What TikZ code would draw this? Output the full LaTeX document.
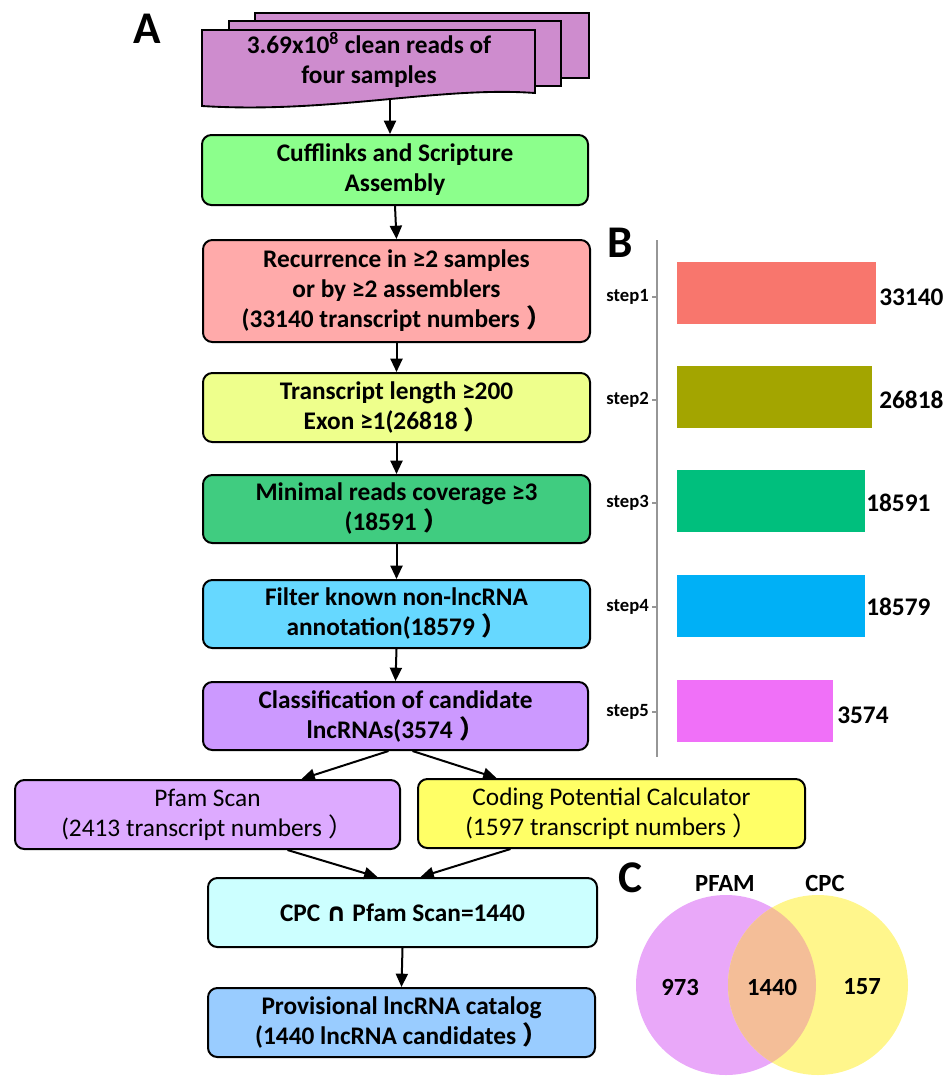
\documentclass[tikz,border=0pt]{standalone}
\usepackage{fontspec}
\setmainfont{Carlito}
\newfontfamily\cjk{Noto Sans CJK SC}
\newfontfamily\djv{DejaVu Sans}
\usetikzlibrary{arrows.meta,calc}
\newcommand\rpar{\hspace{0.25em}{\cjk ）}}
\definecolor{docfill}{RGB}{206,140,206}
\definecolor{cuffc}{RGB}{140,255,140}
\definecolor{recc}{RGB}{255,170,170}
\definecolor{lenc}{RGB}{238,255,140}
\definecolor{minc}{RGB}{64,204,128}
\definecolor{filc}{RGB}{102,216,255}
\definecolor{clsc}{RGB}{204,153,255}
\definecolor{pfac}{RGB}{221,170,255}
\definecolor{cpcc}{RGB}{255,255,102}
\definecolor{intc}{RGB}{204,255,255}
\definecolor{proc}{RGB}{153,204,255}
\definecolor{barA}{RGB}{248,118,109}
\definecolor{barB}{RGB}{163,165,0}
\definecolor{barC}{RGB}{0,191,125}
\definecolor{barD}{RGB}{0,176,246}
\definecolor{barE}{RGB}{240,112,248}
\definecolor{vennL}{RGB}{233,168,249}
\definecolor{vennR}{RGB}{255,246,140}
\definecolor{vennI}{RGB}{244,190,152}
\definecolor{axisg}{RGB}{150,150,150}
\begin{document}
\begin{tikzpicture}[x=0.75pt,y=-0.75pt,
  box/.style={draw=black, line width=1.5pt, rounded corners=7pt, align=center,
    inner sep=0pt, font=\fontsize{19}{22.5}\selectfont\bfseries},
  lightbox/.style={box, font=\fontsize{19}{22.5}\selectfont},
  wh/.style 2 args={minimum width=#1*0.75pt, minimum height=#2*0.75pt},
  arr/.style={-{Triangle[length=10pt,width=9pt]}, line width=1.5pt},
  panel/.style={font=\fontsize{34}{34}\selectfont\bfseries, inner sep=0pt},
  steplbl/.style={font=\fontsize{14}{16}\selectfont\bfseries, inner sep=0pt, anchor=east},
  val/.style={font=\fontsize{19}{20}\selectfont\bfseries, inner sep=0pt, anchor=west},
  vtxt/.style={font=\fontsize{18.5}{20}\selectfont\bfseries, inner sep=0pt}]
\useasboundingbox (0,0) rectangle (946,1076);
% panel labels
\node[panel] (lA) at (147,29) {A};
\node[panel] (lB) at (620,243) {B};
\node[panel] (lC) at (630,878) {C};
% document stack
\filldraw[fill=docfill, draw=black, line width=1.4pt] (255,13) rectangle (589,78);
\filldraw[fill=docfill, draw=black, line width=1.4pt] (229,21) rectangle (561,86);
\filldraw[fill=docfill, draw=black, line width=1.4pt]
  (202,30) -- (535,30) -- (535,93) .. controls (440,86) and (330,114) .. (202,106) -- cycle;
\node[font=\fontsize{19}{22.5}\selectfont\bfseries, align=center, inner sep=0pt] (doc) at (369,60)
  {3.69x10\textsuperscript{8} clean reads of\\four samples};
\coordinate (docb) at (390,100);
% flow boxes
\node[box, wh={386}{70}, fill=cuffc] (cuff) at (395,170) {Cufflinks and Scripture\\Assembly};
\node[box, wh={387}{102}, fill=recc] (rec) at (396.5,291)
  {Recurrence in ≥2 samples\\or by ≥2 assemblers\\(33140 transcript numbers\rpar};
\node[box, wh={387}{69}, fill=lenc] (len) at (396.5,407.5) {Transcript length ≥200\\Exon ≥1(26818\rpar};
\node[box, wh={387}{68}, fill=minc] (min) at (396.5,509) {Minimal reads coverage ≥3\\(18591\rpar};
\node[box, wh={387}{68}, fill=filc] (filt) at (396.5,614) {Filter known non-lncRNA\\annotation(18579\rpar};
\node[box, wh={385}{68}, fill=clsc] (cls) at (395.5,716) {Classification of candidate\\lncRNAs(3574\rpar};
\node[lightbox, wh={385}{69}, fill=pfac] (pfam) at (207.5,814.5) {Pfam Scan\\(2413 transcript numbers\rpar};
\node[lightbox, wh={387}{69}, fill=cpcc] (cpcalc) at (611.5,813.5) {Coding Potential Calculator\\(1597 transcript numbers\rpar};
\node[box, wh={389}{69}, fill=intc] (inter) at (402.5,912.5) {CPC {\djv ∩} Pfam Scan=1440};
\node[box, wh={387}{69}, fill=proc] (prov) at (401.5,1022.5) {Provisional lncRNA catalog\\(1440 lncRNA candidates\rpar};
% connectors
\draw[arr] (docb) -- (docb |- cuff.north);
\draw[arr] (cuff.south) -- (rec.north);
\draw[arr] (rec.south) -- (len.north);
\draw[arr] (len.south) -- (min.north);
\draw[arr] (min.south) -- (filt.north);
\draw[arr] (filt.south) -- (cls.north);
\draw[arr] ($(cls.south)+(-7,0)$) -- ($(pfam.north)+(94,0)$);
\draw[arr] ($(cls.south)+(17,0)$) -- ($(cpcalc.north)+(-115,0)$);
\draw[arr] ($(pfam.south)+(80,0)$) -- ($(inter.north)+(-25,0)$);
\draw[arr] ($(cpcalc.south)+(-101,0)$) -- ($(inter.north)+(18,0)$);
\draw[arr] (inter.south) -- (prov.north);
% bar chart
\draw[axisg, line width=1.5pt] (657,240) -- (657,757);
\foreach \yy/\nm in {297/step1,400/step2,503/step3,607/step4,712/step5}{
  \draw[axisg, line width=0.8pt] (652,\yy) -- (657,\yy);
  \node[steplbl] (\nm) at (649,\yy) {\nm};
}
\fill[barA] (677,262) rectangle (876,324);
\fill[barB] (677,366) rectangle (872,428);
\fill[barC] (677,470) rectangle (865,532);
\fill[barD] (677,575) rectangle (865,637);
\fill[barE] (677,680) rectangle (833,742);
\node[val] (v1) at (879,297) {33140};
\node[val] (v2) at (879,400) {26818};
\node[val] (v3) at (866,503) {18591};
\node[val] (v4) at (866,607) {18579};
\node[val] (v5) at (837,715) {3574};
% venn
\fill[vennL] (726,985) circle (90);
\fill[vennR] (818,985) circle (90);
\begin{scope}
  \clip (726,985) circle (90);
  \fill[vennI] (818,985) circle (90);
\end{scope}
\node[vtxt] (pf) at (725,883) {PFAM};
\node[vtxt] (cp) at (825,883) {CPC};
\node[vtxt] (n1) at (680,987) {973};
\node[vtxt] (n2) at (772,987) {1440};
\node[vtxt] (n3) at (862,987) {157};
\end{tikzpicture}
\end{document}
